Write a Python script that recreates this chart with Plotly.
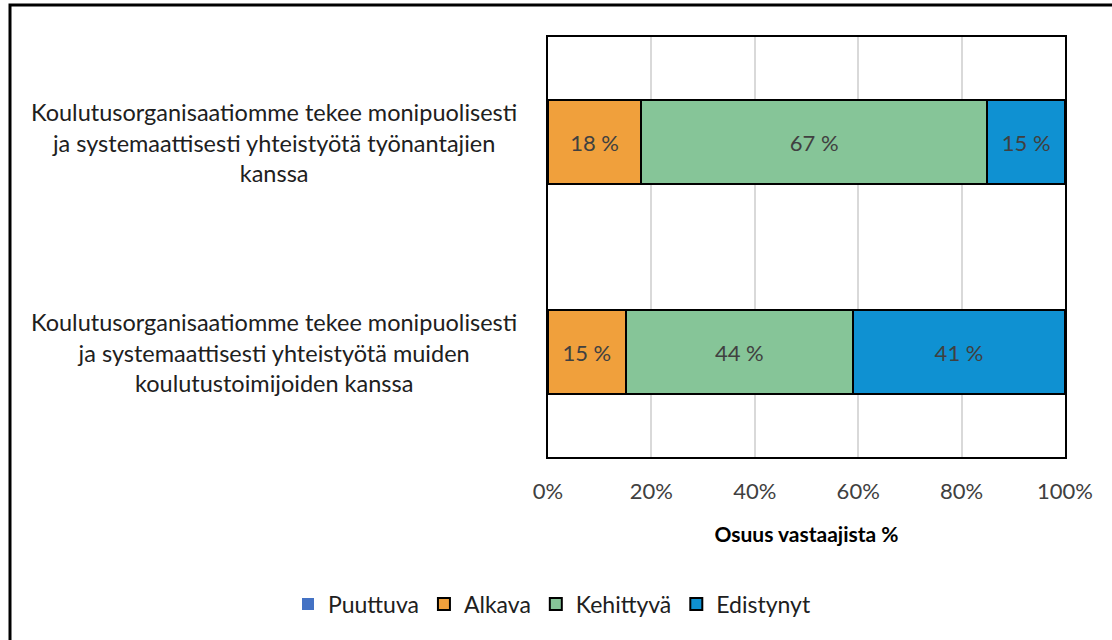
import plotly.graph_objects as go

categories = [
    "Koulutusorganisaatiomme tekee monipuolisesti<br>ja systemaattisesti yhteistyötä työnantajien<br>kanssa",
    "Koulutusorganisaatiomme tekee monipuolisesti<br>ja systemaattisesti yhteistyötä muiden<br>koulutustoimijoiden kanssa",
]
cat_ids = ["c1", "c2"]
series_names = ["Puuttuva", "Alkava", "Kehittyvä", "Edistynyt"]
puuttuva = [0, 0]
alkava = [18, 15]
kehittyva = [67, 44]
edistynyt = [15, 41]
colors = ["#4472C4", "#F0A03C", "#86C598", "#0F91D2"]
x_ticks = [0, 20, 40, 60, 80, 100]
x_ticklabels = ["0%", "20%", "40%", "60%", "80%", "100%"]

W, H = 1112, 640
L, R, T, B = 548, 1112 - 1065, 37, 640 - 457
pw, ph = W - L - R, H - T - B
FONT = "Lato, Open Sans, sans-serif"

fig = go.Figure()
values = [puuttuva, alkava, kehittyva, edistynyt]
for name, vals, col in zip(series_names, values, colors):
    is_p = name == "Puuttuva"
    fig.add_trace(go.Bar(
        y=cat_ids, x=vals, name=name, orientation="h",
        marker=dict(color=col, line=dict(color="#000000", width=0 if is_p else 2)),
        width=0.4,
        text=None if is_p else [f"{v} %" for v in vals],
        textposition="inside", insidetextanchor="middle",
        textfont=dict(family=FONT, size=22, color="#404040"),
        hoverinfo="skip",
    ))

fig.update_layout(
    width=W, height=H, barmode="stack",
    margin=dict(l=L, r=R, t=T, b=B, autoexpand=False),
    paper_bgcolor="white", plot_bgcolor="white",
    font=dict(family=FONT, size=22, color="#000000"),
    legend=dict(orientation="h", x=(288 - L) / pw, xanchor="left",
                y=-(604 - (T + ph)) / ph, yanchor="middle",
                traceorder="normal", font=dict(size=23, color="#202020"),
                itemwidth=30, tracegroupgap=0),
    xaxis=dict(range=[0, 100], tickvals=x_ticks, ticktext=x_ticklabels,
               showgrid=True, gridcolor="#D9D9D9", gridwidth=2, zeroline=False,
               showline=True, linecolor="#000000", linewidth=2, mirror=True,
               ticks="outside", ticklen=0, ticklabelstandoff=14,
               tickfont=dict(size=22, color="#404040"),
               title=dict(text="<b>Osuus vastaajista %</b>", font=dict(size=21, color="#000000"), standoff=24)),
    yaxis=dict(categoryorder="array", categoryarray=cat_ids, autorange="reversed",
               range=[1.5, -0.5], showticklabels=False, showgrid=False, zeroline=False,
               showline=True, linecolor="#000000", linewidth=2, mirror=True),
    bargap=0.6,
)

for cid, label in zip(cat_ids, categories):
    fig.add_annotation(x=(274 - L) / pw, xref="paper", y=cid, yref="y",
                       text=label, showarrow=False, align="center",
                       xanchor="center", yanchor="middle",
                       font=dict(size=23.5, color="#202020"))

# outer chart border
fig.add_shape(type="rect", xref="paper", yref="paper",
              x0=(10 - L) / pw, x1=(1125 - L) / pw,
              y0=-(660 - (T + ph)) / ph, y1=1 + (T - 5) / ph,
              line=dict(color="#000000", width=3), layer="below")

fig.write_html("out.html", config={"displayModeBar": False},
               post_script="document.body.style.margin='0';document.body.style.overflow='hidden';")
